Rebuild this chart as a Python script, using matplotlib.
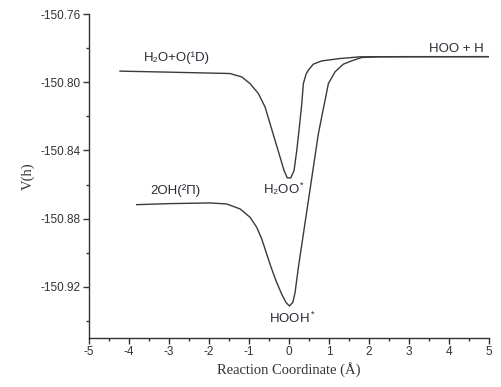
import numpy as np
import matplotlib
matplotlib.use("Agg")
import matplotlib.pyplot as plt
from matplotlib.ticker import MultipleLocator, FormatStrFormatter

plt.rcParams["font.family"] = ["Liberation Sans", "DejaVu Sans"]
plt.rcParams["mathtext.fontset"] = "custom"
plt.rcParams["mathtext.rm"] = "Liberation Sans"
plt.rcParams["mathtext.it"] = "Liberation Sans"
plt.rcParams["axes.unicode_minus"] = False

# H2O + O(1D) -> H2OO* -> HOO + H
x_upper = [-4.225, -3.0, -1.475, -1.183, -0.975, -0.768, -0.6, -0.475, -0.35,
           -0.225, -0.125, -0.043, 0.043, 0.125, 0.193, 0.258, 0.318, 0.358,
           0.425, 0.483, 0.608, 0.818, 1.275, 1.775, 3.0, 5.0]
v_upper = [-150.7935, -150.7941, -150.7949, -150.7969, -150.8008, -150.8066,
           -150.8145, -150.8243, -150.8341, -150.8439, -150.8518, -150.8561,
           -150.8561, -150.8518, -150.8400, -150.8263, -150.8125, -150.8008,
           -150.7953, -150.7929, -150.7894, -150.7875, -150.7861, -150.7851,
           -150.7850, -150.7850]

# 2OH(2Pi) -> HOOH* -> HOO + H
x_lower = [-3.808, -3.0, -1.975, -1.558, -1.225, -0.975, -0.808, -0.683, -0.558,
           -0.433, -0.308, -0.183, -0.075, 0.008, 0.093, 0.15, 0.233, 0.358,
           0.483, 0.608, 0.733, 0.84, 0.9, 0.983, 1.15, 1.358, 1.608, 1.818,
           2.275, 5.0]
v_lower = [-150.8718, -150.8712, -150.8708, -150.8714, -150.8743, -150.8792,
           -150.8851, -150.8919, -150.9008, -150.9096, -150.9175, -150.9243,
           -150.9292, -150.9312, -150.9292, -150.9234, -150.9086, -150.8890,
           -150.8694, -150.8498, -150.8302, -150.8175, -150.8106, -150.8008,
           -150.7939, -150.7894, -150.7871, -150.7855, -150.7851, -150.7850]

labels = ["H₂O+O(¹D)", "HOO + H", "H₂OO$^*$", "2OH(²Π)", "HOOH$^*$"]
label_x = [-2.8, 4.17, -0.12, -2.85, 0.08]
label_v = [-150.7855, -150.7805, -150.8625, -150.8635, -150.9385]

fig = plt.figure(figsize=(5.02, 3.87), dpi=100)
ax = fig.add_axes([0.1773, 0.1266, 0.797, 0.8372])

line_color = "#3a3a3a"
ax.plot(x_upper, v_upper, color=line_color, lw=1.0)
ax.plot(x_lower, v_lower, color=line_color, lw=1.0)

for txt, lx, lv in zip(labels, label_x, label_v):
    ax.text(lx, lv, txt, ha="center", va="center", fontsize=9.5, color="#2a2a35")

ax.set_xlim(-5, 5)
ax.set_ylim(-150.95, -150.76)
ax.xaxis.set_major_locator(MultipleLocator(1))
ax.xaxis.set_minor_locator(MultipleLocator(0.5))
ax.yaxis.set_major_locator(MultipleLocator(0.04))
ax.yaxis.set_minor_locator(MultipleLocator(0.02))
ax.yaxis.set_major_formatter(FormatStrFormatter("%.2f"))
ax.set_yticks(np.arange(-150.92, -150.75, 0.04))

for side in ["top", "right"]:
    ax.spines[side].set_visible(False)
for side in ["left", "bottom"]:
    ax.spines[side].set_color("#333333")
    ax.spines[side].set_linewidth(1.0)

ax.tick_params(which="major", direction="out", length=4, width=1,
               labelsize=8.5, colors="#333333", pad=2)
ax.tick_params(which="minor", direction="out", length=2.5, width=1, colors="#333333")

ax.set_xlabel("Reaction Coordinate (Å)", family=["Liberation Serif", "DejaVu Serif"],
              fontsize=10.5, color="#333333", labelpad=3)
ax.set_ylabel("V(h)", family=["Liberation Serif", "DejaVu Serif"],
              fontsize=10.5, color="#333333", labelpad=4)

fig.savefig("out.png", dpi=100)
